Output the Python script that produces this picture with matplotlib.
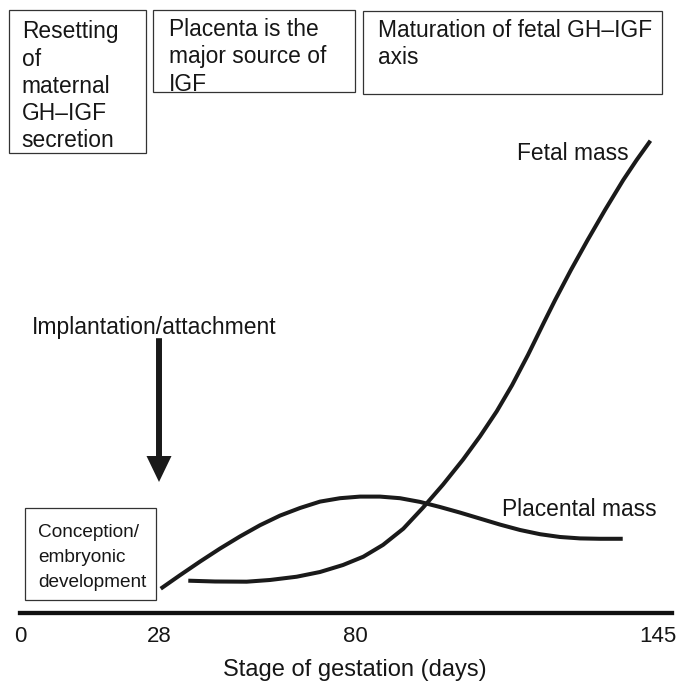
import numpy as np
import matplotlib
matplotlib.use("Agg")
import matplotlib.pyplot as plt
from matplotlib.patches import Rectangle

plt.rcParams['font.family'] = ['Liberation Sans', 'DejaVu Sans']

W, H = 685, 681
INK = '#1a1a1a'
TEXT = '#161616'

# Gestation axis ticks (days)
tick_days = [0, 28, 80, 145]
tick_labels = ["0", "28", "80", "145"]

# Placental mass (relative units) over gestation
placenta_days = [28.45, 33.57, 38.88, 44.18, 49.49, 54.80, 60.10, 65.41,
                 70.72, 76.02, 81.07, 85.36, 89.65, 93.94, 98.23, 102.52,
                 106.82, 111.11, 115.40, 119.69, 123.98, 128.27, 132.56, 137.43]
placenta_mass = [5.14, 7.99, 10.87, 13.62, 16.19, 18.56, 20.59, 22.20,
                 23.55, 24.27, 24.61, 24.61, 24.27, 23.49, 22.41, 21.23,
                 19.96, 18.69, 17.55, 16.66, 16.07, 15.77, 15.69, 15.69]

# Fetal mass (relative units) over gestation
fetal_days = [35.77, 42.86, 51.27, 57.45, 64.53, 70.72, 76.82, 81.78,
              86.01, 90.36, 94.59, 98.88, 103.17, 106.82, 110.40, 113.68,
              117.11, 120.57, 122.93, 126.32, 129.90, 133.63, 137.54,
              140.41, 143.37]
fetal_mass = [6.83, 6.66, 6.62, 6.98, 7.67, 8.67, 10.15, 11.90,
              14.40, 17.82, 22.28, 27.15, 32.43, 37.36, 42.64, 48.14,
              54.57, 61.52, 66.17, 72.52, 78.86, 85.20, 91.54,
              95.77, 99.85]

implantation_day = 28

# The schematic gestation axis is drawn with unequal spacing between ticks
SCALE_DAYS = [-100.0, 0.0, 28.0, 80.0, 145.0, 300.0]
SCALE_POS = [-496.4, 0.0, 139.0, 335.0, 638.0, 1360.6]


def forward(d):
    return np.interp(d, SCALE_DAYS, SCALE_POS)


def inverse(p):
    return np.interp(p, SCALE_POS, SCALE_DAYS)


def fx(x):
    return x / W


def fy(y):
    return 1 - y / H


fig = plt.figure(figsize=(W / 100, H / 100), dpi=100)
ax = fig.add_axes([fx(20), (H - 613) / H, 652 / W, 613 / H])
ax.set_xscale('function', functions=(forward, inverse))
ax.set_xlim(0, 148.0)
ax.set_ylim(0, 129.6)

ax.plot(placenta_days, placenta_mass, color=INK, lw=2.9,
        solid_capstyle='butt', solid_joinstyle='round', clip_on=False)
ax.plot(fetal_days, fetal_mass, color=INK, lw=2.9,
        solid_capstyle='butt', solid_joinstyle='round', clip_on=False)

# Implantation arrow
ax.annotate("", xy=(implantation_day, 27.7), xytext=(implantation_day, 58.1),
            arrowprops=dict(arrowstyle="simple,head_length=1.87,head_width=1.8,tail_width=0.43",
                            mutation_scale=10, fc=INK, ec='none', lw=0,
                            shrinkA=0, shrinkB=0))

for side in ('top', 'left', 'right'):
    ax.spines[side].set_visible(False)
ax.spines['bottom'].set_linewidth(3.1)
ax.spines['bottom'].set_color('#111111')
ax.set_yticks([])
ax.set_xticks(tick_days)
ax.set_xticklabels(tick_labels)
ax.xaxis.set_minor_locator(matplotlib.ticker.NullLocator())
ax.tick_params(axis='x', length=0, pad=9, labelsize=16, labelcolor=TEXT)
ax.set_xlabel("Stage of gestation (days)", fontsize=17, color=TEXT)
ax.xaxis.set_label_coords(0.514, -0.0746)


def box(x0, y0, x1, y1):
    fig.add_artist(Rectangle((fx(x0), fy(y1)), (x1 - x0) / W, (y1 - y0) / H,
                             transform=fig.transFigure, fill=False,
                             lw=0.9, ec='#333333'))


def lines(x, baselines, texts, size):
    for b, t in zip(baselines, texts):
        fig.text(fx(x), fy(b), t, ha='left', va='baseline', fontsize=size,
                 color=TEXT)


box(9.3, 10, 146, 153.3)
lines(21.7, [38.3, 65.5, 92.6, 119.6, 146.7],
      ["Resetting", "of", "maternal", "GH\u2013IGF", "secretion"], 16.4)

box(153.3, 10, 355, 92.3)
lines(169.3, [35.5, 63.3, 91.0],
      ["Placenta is the", "major source of", "IGF"], 16.4)

box(362.7, 11, 661.7, 94.3)
lines(377.7, [36.7, 64.3], ["Maturation of fetal GH\u2013IGF", "axis"], 16.4)

box(25, 508.3, 156, 600)
lines(38.3, [537.3, 561.7, 586.7],
      ["Conception/", "embryonic", "development"], 13.7)

lines(517.3, [160.5], ["Fetal mass"], 16.4)
lines(502, [515.5], ["Placental mass"], 16.4)
lines(31.7, [334.0], ["Implantation/attachment"], 16.5)

fig.savefig("out.png", dpi=100)
